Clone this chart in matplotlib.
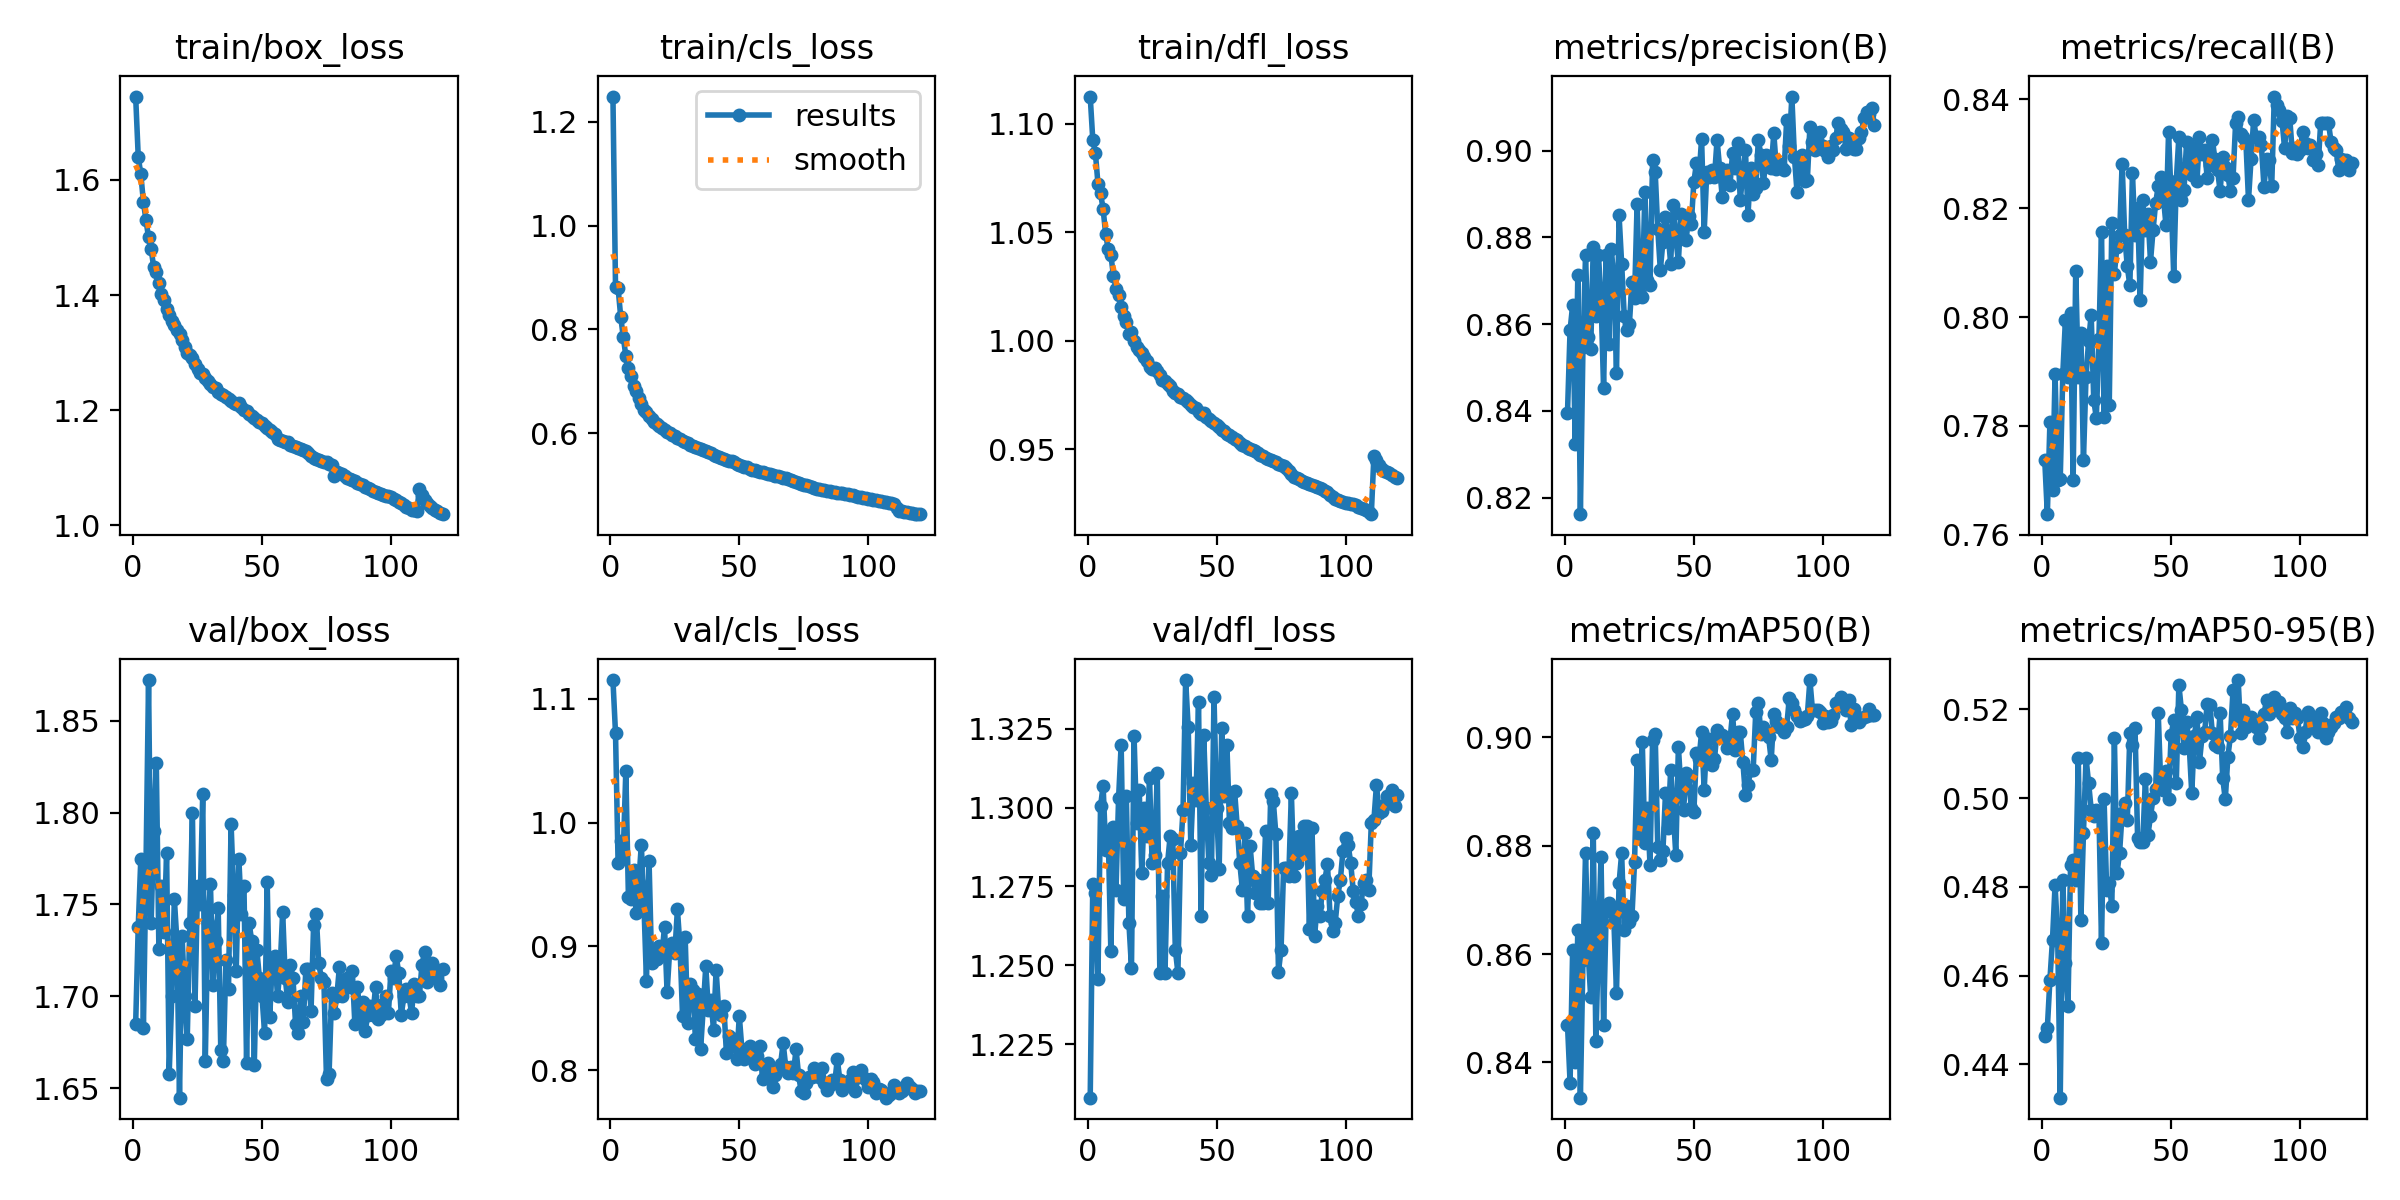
import numpy as np
import matplotlib
matplotlib.use('Agg')
import matplotlib.pyplot as plt

plt.rcParams['font.size'] = 11

epochs = list(range(1, 121))

train_box_loss = [1.745, 1.640, 1.610, 1.562, 1.530, 1.500, 1.480, 1.448, 1.440, 1.421,
    1.401, 1.391, 1.375, 1.365, 1.354, 1.348, 1.340, 1.332, 1.322, 1.310,
    1.300, 1.295, 1.290, 1.280, 1.272, 1.265, 1.262, 1.256, 1.250, 1.246,
    1.240, 1.238, 1.232, 1.228, 1.226, 1.222, 1.220, 1.215, 1.212, 1.210,
    1.212, 1.205, 1.200, 1.198, 1.194, 1.190, 1.186, 1.183, 1.180, 1.177,
    1.172, 1.168, 1.165, 1.162, 1.158, 1.150, 1.148, 1.146, 1.144, 1.145,
    1.140, 1.138, 1.136, 1.134, 1.132, 1.131, 1.128, 1.125, 1.120, 1.116,
    1.115, 1.114, 1.112, 1.110, 1.109, 1.107, 1.104, 1.085, 1.092, 1.090,
    1.088, 1.085, 1.082, 1.080, 1.078, 1.076, 1.074, 1.072, 1.069, 1.067,
    1.065, 1.062, 1.060, 1.058, 1.055, 1.054, 1.053, 1.051, 1.050, 1.049,
    1.046, 1.043, 1.040, 1.038, 1.035, 1.032, 1.030, 1.027, 1.026, 1.024,
    1.062, 1.052, 1.044, 1.038, 1.034, 1.030, 1.027, 1.024, 1.021, 1.019]

train_cls_loss = [1.249, 0.882, 0.880, 0.825, 0.786, 0.749, 0.725, 0.710, 0.692, 0.681,
    0.668, 0.656, 0.645, 0.640, 0.634, 0.628, 0.622, 0.618, 0.614, 0.610,
    0.606, 0.603, 0.600, 0.597, 0.594, 0.591, 0.588, 0.586, 0.583, 0.581,
    0.578, 0.576, 0.574, 0.572, 0.570, 0.568, 0.566, 0.563, 0.561, 0.558,
    0.556, 0.555, 0.553, 0.551, 0.549, 0.547, 0.546, 0.544, 0.541, 0.539,
    0.537, 0.535, 0.534, 0.532, 0.530, 0.529, 0.528, 0.526, 0.525, 0.523,
    0.522, 0.521, 0.520, 0.518, 0.517, 0.516, 0.514, 0.513, 0.511, 0.510,
    0.508, 0.506, 0.505, 0.503, 0.501, 0.500, 0.498, 0.497, 0.495, 0.493,
    0.492, 0.491, 0.490, 0.489, 0.488, 0.487, 0.486, 0.485, 0.485, 0.484,
    0.483, 0.482, 0.481, 0.480, 0.479, 0.478, 0.477, 0.476, 0.475, 0.474,
    0.473, 0.472, 0.471, 0.470, 0.469, 0.468, 0.467, 0.466, 0.465, 0.464,
    0.456, 0.451, 0.450, 0.449, 0.448, 0.447, 0.446, 0.445, 0.445, 0.444]

train_dfl_loss = [1.1125, 1.0925, 1.0866, 1.0724, 1.0680, 1.0607, 1.0490, 1.0420, 1.0395, 1.0300,
    1.0240, 1.0210, 1.0157, 1.0115, 1.0085, 1.0030, 1.0040, 1.0000, 0.9970, 0.9955,
    0.9945, 0.9925, 0.9905, 0.9880, 0.9870, 0.9875, 0.9860, 0.9840, 0.9820, 0.9815,
    0.9800, 0.9790, 0.9770, 0.9760, 0.9755, 0.9740, 0.9735, 0.9725, 0.9715, 0.9705,
    0.9695, 0.9690, 0.9670, 0.9660, 0.9665, 0.9650, 0.9640, 0.9630, 0.9620, 0.9610,
    0.9600, 0.9590, 0.9585, 0.9570, 0.9565, 0.9555, 0.9545, 0.9540, 0.9530, 0.9520,
    0.9515, 0.9505, 0.9500, 0.9495, 0.9490, 0.9480, 0.9475, 0.9470, 0.9460, 0.9455,
    0.9450, 0.9445, 0.9440, 0.9430, 0.9425, 0.9420, 0.9415, 0.9400, 0.9385, 0.9370,
    0.9365, 0.9360, 0.9355, 0.9350, 0.9345, 0.9340, 0.9335, 0.9330, 0.9325, 0.9320,
    0.9315, 0.9305, 0.9300, 0.9290, 0.9280, 0.9270, 0.9265, 0.9260, 0.9255, 0.9250,
    0.9250, 0.9248, 0.9245, 0.9240, 0.9235, 0.9230, 0.9225, 0.9220, 0.9210, 0.9200,
    0.9467, 0.9450, 0.9425, 0.9410, 0.9400, 0.9395, 0.9390, 0.9380, 0.9370, 0.9365]

precision = [0.8396, 0.8586, 0.8644, 0.8323, 0.8713, 0.8162, 0.8548, 0.8759, 0.8570, 0.8544,
    0.8777, 0.8620, 0.8760, 0.8660, 0.8452, 0.8760, 0.8555, 0.8774, 0.8700, 0.8487,
    0.8851, 0.8740, 0.8620, 0.8586, 0.8600, 0.8698, 0.8660, 0.8878, 0.8670, 0.8663,
    0.8905, 0.8702, 0.8690, 0.8978, 0.8952, 0.8820, 0.8725, 0.8790, 0.8848, 0.8810,
    0.8740, 0.8875, 0.8800, 0.8744, 0.8855, 0.8830, 0.8794, 0.8850, 0.8832, 0.8928,
    0.8971, 0.8940, 0.9028, 0.8812, 0.8950, 0.8940, 0.8955, 0.8940, 0.9025, 0.8960,
    0.8894, 0.8930, 0.8955, 0.8920, 0.8994, 0.8960, 0.9017, 0.8886, 0.8950, 0.9002,
    0.8852, 0.8960, 0.8900, 0.8913, 0.9025, 0.8990, 0.8925, 0.8990, 0.8970, 0.8960,
    0.9040, 0.8959, 0.8970, 0.8960, 0.8955, 0.9072, 0.9010, 0.9125, 0.8986, 0.8905,
    0.8960, 0.8990, 0.8930, 0.8932, 0.9055, 0.9020, 0.9002, 0.9040, 0.9044, 0.9010,
    0.9000, 0.8986, 0.9010, 0.9002, 0.9030, 0.9063, 0.9050, 0.9044, 0.9005, 0.9030,
    0.9020, 0.9005, 0.9005, 0.9030, 0.9044, 0.9075, 0.9090, 0.9085, 0.9098, 0.9060]

recall = [0.7737, 0.7638, 0.7807, 0.7682, 0.7896, 0.7700, 0.7703, 0.7896, 0.7994, 0.7890,
    0.8007, 0.7700, 0.8085, 0.7890, 0.7970, 0.7737, 0.7890, 0.7956, 0.8004, 0.7847,
    0.7815, 0.7960, 0.8157, 0.7817, 0.8093, 0.7838, 0.8172, 0.8080, 0.8129, 0.8150,
    0.8282, 0.8150, 0.8093, 0.8058, 0.8264, 0.8150, 0.8200, 0.8032, 0.8215, 0.8160,
    0.8190, 0.8102, 0.8160, 0.8210, 0.8240, 0.8258, 0.8220, 0.8169, 0.8339, 0.8220,
    0.8076, 0.8250, 0.8331, 0.8215, 0.8234, 0.8322, 0.8290, 0.8260, 0.8310, 0.8249,
    0.8331, 0.8300, 0.8307, 0.8255, 0.8280, 0.8325, 0.8290, 0.8270, 0.8231, 0.8294,
    0.8276, 0.8260, 0.8231, 0.8255, 0.8356, 0.8368, 0.8337, 0.8330, 0.8322, 0.8215,
    0.8291, 0.8362, 0.8330, 0.8331, 0.8316, 0.8239, 0.8290, 0.8288, 0.8240, 0.8405,
    0.8390, 0.8380, 0.8360, 0.8310, 0.8370, 0.8365, 0.8301, 0.8310, 0.8300, 0.8307,
    0.8340, 0.8320, 0.8310, 0.8316, 0.8288, 0.8300, 0.8279, 0.8357, 0.8357, 0.8357,
    0.8357, 0.8322, 0.8310, 0.8307, 0.8270, 0.8290, 0.8285, 0.8288, 0.8270, 0.8283]

val_box_loss = [1.685, 1.738, 1.775, 1.683, 1.770, 1.872, 1.740, 1.790, 1.827, 1.726,
    1.760, 1.735, 1.778, 1.658, 1.700, 1.753, 1.730, 1.645, 1.733, 1.700,
    1.677, 1.740, 1.800, 1.695, 1.760, 1.750, 1.810, 1.665, 1.740, 1.761,
    1.706, 1.730, 1.748, 1.671, 1.665, 1.720, 1.704, 1.794, 1.755, 1.714,
    1.775, 1.745, 1.760, 1.664, 1.740, 1.730, 1.663, 1.725, 1.710, 1.700,
    1.680, 1.762, 1.689, 1.720, 1.722, 1.700, 1.715, 1.746, 1.710, 1.697,
    1.717, 1.710, 1.685, 1.680, 1.700, 1.686, 1.715, 1.715, 1.692, 1.739,
    1.745, 1.718, 1.710, 1.708, 1.655, 1.658, 1.702, 1.691, 1.700, 1.716,
    1.700, 1.705, 1.710, 1.705, 1.714, 1.685, 1.705, 1.690, 1.697, 1.681,
    1.690, 1.695, 1.690, 1.705, 1.688, 1.690, 1.696, 1.700, 1.691, 1.714,
    1.710, 1.722, 1.713, 1.690, 1.700, 1.704, 1.700, 1.691, 1.707, 1.700,
    1.700, 1.717, 1.724, 1.708, 1.712, 1.718, 1.715, 1.710, 1.706, 1.715]

val_cls_loss = [1.115, 1.072, 0.967, 0.985, 0.975, 1.042, 0.940, 0.938, 0.962, 0.927,
    0.951, 0.982, 0.935, 0.872, 0.969, 0.887, 0.895, 0.890, 0.900, 0.893,
    0.916, 0.863, 0.897, 0.903, 0.895, 0.930, 0.900, 0.844, 0.908, 0.838,
    0.870, 0.865, 0.825, 0.862, 0.817, 0.850, 0.884, 0.849, 0.857, 0.833,
    0.881, 0.849, 0.845, 0.852, 0.814, 0.828, 0.820, 0.825, 0.809, 0.844,
    0.817, 0.809, 0.812, 0.820, 0.815, 0.805, 0.812, 0.820, 0.793, 0.795,
    0.806, 0.799, 0.787, 0.796, 0.800, 0.805, 0.822, 0.803, 0.798, 0.803,
    0.798, 0.817, 0.796, 0.783, 0.782, 0.790, 0.795, 0.795, 0.802, 0.798,
    0.795, 0.802, 0.790, 0.784, 0.788, 0.792, 0.790, 0.809, 0.792, 0.784,
    0.790, 0.788, 0.792, 0.799, 0.783, 0.795, 0.800, 0.795, 0.792, 0.787,
    0.793, 0.791, 0.782, 0.785, 0.784, 0.782, 0.778, 0.780, 0.782, 0.788,
    0.785, 0.782, 0.783, 0.787, 0.790, 0.787, 0.785, 0.782, 0.783, 0.783]

val_dfl_loss = [1.2080, 1.2757, 1.2730, 1.2458, 1.3004, 1.3070, 1.2867, 1.2910, 1.2545, 1.2940,
    1.2740, 1.3030, 1.3200, 1.2710, 1.3036, 1.2635, 1.2493, 1.3228, 1.2950, 1.3057,
    1.2793, 1.3000, 1.2910, 1.3094, 1.2825, 1.2850, 1.3110, 1.2477, 1.2720, 1.2477,
    1.2825, 1.2910, 1.2900, 1.2550, 1.2477, 1.2857, 1.2994, 1.3405, 1.3255, 1.2883,
    1.3078, 1.3025, 1.3336, 1.2656, 1.3231, 1.3000, 1.2825, 1.2788, 1.3352, 1.3000,
    1.2804, 1.3252, 1.3036, 1.3200, 1.2950, 1.2936, 1.3052, 1.2941, 1.2825, 1.2740,
    1.2920, 1.2656, 1.2878, 1.2783, 1.2730, 1.2772, 1.2698, 1.2698, 1.2925, 1.2698,
    1.3044, 1.3020, 1.2915, 1.2480, 1.2550, 1.2810, 1.2810, 1.2783, 1.3046, 1.2783,
    1.2825, 1.2910, 1.2857, 1.2941, 1.2941, 1.2614, 1.2936, 1.2593, 1.2688, 1.2656,
    1.2735, 1.2772, 1.2820, 1.2656, 1.2609, 1.2635, 1.2720, 1.2772, 1.2862, 1.2904,
    1.2883, 1.2825, 1.2735, 1.2700, 1.2656, 1.2693, 1.2762, 1.2770, 1.2740, 1.2951,
    1.2960, 1.3073, 1.2983, 1.2988, 1.3010, 1.3036, 1.3015, 1.3057, 1.3004, 1.3041]

map50 = [0.8470, 0.8363, 0.8608, 0.8400, 0.8645, 0.8335, 0.8590, 0.8786, 0.8605, 0.8520,
    0.8823, 0.8440, 0.8620, 0.8780, 0.8470, 0.8680, 0.8695, 0.8680, 0.8660, 0.8529,
    0.8731, 0.8786, 0.8645, 0.8688, 0.8660, 0.8670, 0.8770, 0.8958, 0.8817, 0.8992,
    0.8805, 0.8870, 0.8765, 0.8995, 0.9007, 0.8798, 0.8774, 0.8790, 0.8897, 0.8833,
    0.8940, 0.8866, 0.8783, 0.8983, 0.8903, 0.8866, 0.8934, 0.8928, 0.8870, 0.8863,
    0.8971, 0.8960, 0.9010, 0.8903, 0.8998, 0.8998, 0.8949, 0.8960, 0.9013, 0.9000,
    0.9004, 0.9000, 0.8980, 0.8995, 0.9044, 0.8977, 0.9010, 0.9010, 0.8955, 0.8894,
    0.8912, 0.8940, 0.8940, 0.9047, 0.9063, 0.9007, 0.9020, 0.9010, 0.9000, 0.8958,
    0.9044, 0.9030, 0.9020, 0.9020, 0.9010, 0.9020, 0.9072, 0.9063, 0.9050, 0.9040,
    0.9030, 0.9032, 0.9035, 0.9040, 0.9106, 0.9050, 0.9050, 0.9050, 0.9047, 0.9026,
    0.9040, 0.9029, 0.9030, 0.9041, 0.9063, 0.9060, 0.9075, 0.9060, 0.9050, 0.9069,
    0.9023, 0.9053, 0.9040, 0.9029, 0.9035, 0.9038, 0.9040, 0.9053, 0.9041, 0.9041]

map50_95 = [0.4464, 0.4482, 0.4591, 0.4681, 0.4805, 0.4690, 0.4325, 0.4816, 0.4628, 0.4531,
    0.4850, 0.4861, 0.4816, 0.5090, 0.4726, 0.4921, 0.5090, 0.5034, 0.4974, 0.4960,
    0.4974, 0.4970, 0.4674, 0.4997, 0.4794, 0.4809, 0.4756, 0.5135, 0.4831, 0.4876,
    0.4966, 0.4989, 0.4950, 0.5146, 0.5120, 0.5157, 0.4910, 0.4902, 0.4900, 0.5042,
    0.4917, 0.4959, 0.5000, 0.5020, 0.5191, 0.5026, 0.5018, 0.5060, 0.4997, 0.5142,
    0.5176, 0.5034, 0.5255, 0.5198, 0.5112, 0.5172, 0.5120, 0.5011, 0.5140, 0.5183,
    0.5082, 0.5140, 0.5150, 0.5213, 0.5210, 0.5146, 0.5120, 0.5116, 0.5191, 0.5045,
    0.4997, 0.5093, 0.5140, 0.5243, 0.5180, 0.5266, 0.5146, 0.5198, 0.5160, 0.5176,
    0.5183, 0.5170, 0.5160, 0.5135, 0.5161, 0.5190, 0.5221, 0.5190, 0.5202, 0.5228,
    0.5213, 0.5217, 0.5190, 0.5180, 0.5150, 0.5202, 0.5180, 0.5191, 0.5180, 0.5135,
    0.5116, 0.5150, 0.5195, 0.5180, 0.5170, 0.5170, 0.5150, 0.5191, 0.5170, 0.5135,
    0.5150, 0.5160, 0.5170, 0.5183, 0.5180, 0.5195, 0.5190, 0.5206, 0.5180, 0.5172]

titles = ['train/box_loss', 'train/cls_loss', 'train/dfl_loss', 'metrics/precision(B)', 'metrics/recall(B)',
          'val/box_loss', 'val/cls_loss', 'val/dfl_loss', 'metrics/mAP50(B)', 'metrics/mAP50-95(B)']
series = [train_box_loss, train_cls_loss, train_dfl_loss, precision, recall,
          val_box_loss, val_cls_loss, val_dfl_loss, map50, map50_95]


def gaussian_smooth(y, sigma=3):
    # same as scipy gaussian_filter1d (mode reflect, truncate 4)
    r = int(4 * sigma + 0.5)
    k = np.exp(-0.5 * (np.arange(-r, r + 1) / sigma) ** 2)
    k = k / k.sum()
    yp = np.pad(np.asarray(y, dtype=float), r, mode='symmetric')
    return np.convolve(yp, k, mode='valid')


fig, ax = plt.subplots(2, 5, figsize=(12, 6), tight_layout=True)
ax = ax.ravel()
x = np.array(epochs)
for i in range(len(series)):
    y = np.array(series[i])
    ax[i].plot(x, y, marker='.', label='results', linewidth=2, markersize=8)
    ax[i].plot(x, gaussian_smooth(y, sigma=3), ':', label='smooth', linewidth=2)
    ax[i].set_title(titles[i], fontsize=12)
ax[1].legend(loc='upper right')

fig.savefig('out.png', dpi=200)
